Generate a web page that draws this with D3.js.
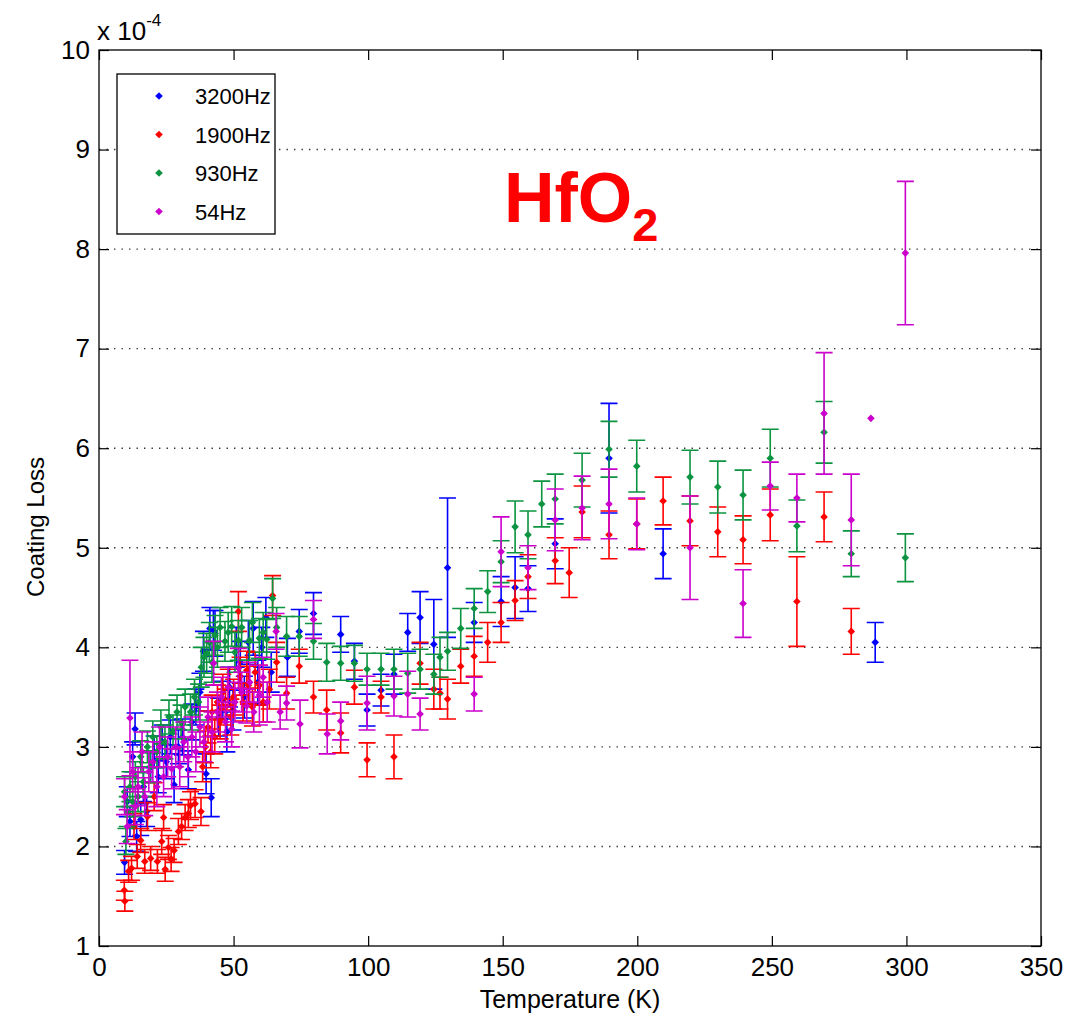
<!DOCTYPE html>
<html><head><meta charset="utf-8">
<script src="https://cdn.jsdelivr.net/npm/d3@7"></script>
<style>body{margin:0;background:#fff}svg text{font-family:"Liberation Sans",Arial,sans-serif}</style>
</head><body><svg id="c" width="1084" height="1017"></svg>
<script>
// series data: [temperature K, coating loss (x1e-4), error half-width]
const s3200 = [[9.5,1.84,.12],[10.5,2.45,.15],[11.5,2.25,.15],[12.5,2.9,.15],[13.4,3.18,.16],[14,2.1,.15],[15.5,2.27,.16],[16.5,2.6,.15],[17.7,2.35,.15],[19.2,2.8,.15],[20.5,2.95,.16],[22,2.7,.16],[23.5,3.05,.17],[25,2.85,.17],[26.5,3.1,.17],[27.9,2.62,.18],[29.5,3.0,.17],[31,3.1,.18],[33.2,2.77,.19],[34.5,3.25,.18],[36,3.4,.18],[37.5,3.55,.19],[38.8,3.96,.2],[39.8,2.73,.2],[41.2,4.19,.21],[41.7,2.49,.19],[42.5,4.17,.2],[43.1,4.14,.23],[44.5,3.3,.19],[46,3.47,.19],[47.5,3.15,.2],[48.5,3.6,.2],[49.8,3.37,.2],[51,4.0,.2],[52.5,3.85,.21],[54,3.5,.21],[55.5,4.05,.22],[57.3,4.19,.27],[59,3.65,.22],[60.5,4.0,.2],[62,4.3,.2],[64,3.75,.2],[70,3.9,.19],[74.4,4.16,.22],[79.7,4.34,.21],[89.8,4.13,.18],[94.9,3.86,.18],[99.6,3.37,.16],[104.8,3.57,.16],[109.6,3.73,.2],[114.7,4.15,.19],[119.3,4.3,.26],[124.4,4.03,.45],[129.5,4.8,.7],[139.4,4.25,.2],[149.4,4.46,.25],[154.6,4.6,.31],[159.4,4.59,.23],[169.5,5.04,.25],[189.5,5.9,.55],[209.6,4.94,.25],[288.4,4.05,.2]];
const s1900 = [[9.4,1.56,.1],[9.6,1.45,.1],[11,1.75,.11],[12.1,1.78,.12],[13,2.2,.13],[14.2,1.9,.12],[15.5,2.06,.12],[17,1.85,.12],[18,2.3,.14],[19.2,1.88,.12],[20.5,2.5,.14],[21.7,1.85,.12],[23.3,2.05,.13],[24,2.29,.13],[24.6,1.77,.12],[25.8,1.99,.12],[26.8,1.87,.12],[27.9,1.96,.12],[29.5,2.15,.13],[30.7,2.2,.13],[32,2.29,.13],[33.2,2.33,.14],[34,2.41,.14],[35.7,2.43,.14],[37.9,2.35,.14],[38.5,2.8,.15],[39.5,3.0,.16],[40.5,3.2,.16],[41.5,2.95,.16],[42,3.35,.17],[43,3.1,.17],[44,3.45,.17],[45,3.25,.17],[46,3.55,.18],[47,3.4,.18],[48,3.6,.18],[49,3.3,.18],[50,3.5,.18],[51.8,4.36,.2],[52.4,3.71,.19],[53.5,3.45,.19],[54.9,3.77,.19],[55.5,3.62,.19],[57,3.4,.19],[58,3.75,.2],[59.6,3.62,.2],[61,3.45,.2],[63.3,3.58,.2],[64.5,4.52,.2],[66,3.85,.2],[69.7,3.54,.16],[74.4,3.81,.17],[79.7,3.5,.16],[84.6,3.37,.2],[89.8,3.14,.2],[94.9,3.6,.17],[99.6,2.87,.17],[104.8,3.5,.16],[109.6,2.9,.22],[119.3,3.84,.21],[124.4,3.58,.2],[126.7,3.54,.16],[129.5,3.48,.2],[134.4,3.81,.17],[139.4,3.91,.2],[144.4,4.05,.2],[149.4,4.25,.2],[154.6,4.47,.2],[159.4,4.71,.22],[169.5,4.87,.23],[174.7,4.75,.25],[179.5,5.36,.26],[189.5,5.13,.24],[199.8,5.24,.25],[209.6,5.47,.24],[219.6,5.27,.25],[229.9,5.16,.25],[239.3,5.08,.24],[249.4,5.33,.26],[259.3,4.46,.45],[269.4,5.31,.25],[279.5,4.16,.23]];
const s930 = [[9.5,2.55,.15],[10,2.05,.13],[10.5,2.35,.15],[11.5,2.6,.15],[12.5,2.45,.15],[13.5,2.7,.15],[14.5,2.5,.15],[15.5,2.9,.16],[16.5,2.65,.15],[18,3.0,.16],[19,2.8,.16],[20,3.1,.16],[21.5,2.95,.16],[23,3.2,.17],[24.5,3.05,.17],[26,3.3,.17],[27.5,3.15,.17],[29,3.35,.17],[30.5,3.25,.17],[32,3.4,.18],[34,3.35,.18],[35.5,3.5,.18],[37,3.45,.18],[38,3.8,.2],[39,3.9,.2],[40,3.94,.2],[41,4.05,.2],[42,3.85,.2],[43.1,4.12,.2],[44,4.0,.2],[45,4.2,.2],[46.8,4.06,.2],[48,4.15,.2],[49.3,4.21,.2],[50.5,3.95,.2],[51.8,4.07,.2],[53,4.2,.2],[55.9,4.07,.2],[57,4.25,.2],[59.6,4.09,.2],[61,4.15,.2],[62.3,4.08,.2],[64.5,4.49,.2],[66,4.2,.2],[69.7,4.11,.2],[74.4,4.11,.2],[79.7,4.06,.18],[84.6,3.85,.19],[89.8,3.84,.17],[94.9,3.84,.18],[99.6,3.78,.16],[104.8,3.78,.16],[109.6,3.78,.2],[114.7,3.74,.2],[119.3,3.78,.2],[124.4,3.73,.2],[126.7,3.9,.2],[129.5,3.96,.19],[134.4,4.19,.2],[139.4,4.39,.2],[144.4,4.56,.21],[149.4,4.86,.21],[154.6,5.21,.26],[159.4,5.13,.24],[164.5,5.44,.23],[169.5,5.49,.25],[179.5,5.68,.27],[189.5,5.99,.28],[199.8,5.82,.26],[219.6,5.71,.27],[229.9,5.61,.26],[239.3,5.53,.25],[249.4,5.9,.29],[259.3,5.22,.26],[269.4,6.16,.31],[279.5,4.94,.23],[299.6,4.9,.24]];
const s54 = [[9.5,2.5,.18],[10.5,2.2,.17],[11.5,3.29,.58],[12.5,2.75,.2],[13.5,2.4,.18],[14.5,2.6,.19],[16,2.95,.2],[17,2.5,.19],[18.5,2.75,.2],[20,2.85,.2],[21.5,2.6,.2],[22.5,3.0,.2],[24,2.7,.2],[25.5,2.9,.2],[27,2.78,.2],[28.5,3.0,.2],[30,2.8,.2],[31.5,3.05,.2],[33,2.9,.2],[34.5,3.1,.2],[36,2.95,.2],[37.5,3.2,.2],[39,3.05,.2],[40.5,3.3,.2],[42,3.15,.2],[42.6,3.84,.22],[44,3.35,.2],[45.5,3.5,.2],[47,3.25,.2],[48,3.6,.2],[49.3,3.18,.18],[50.5,3.45,.2],[51.8,3.79,.2],[53,3.55,.2],[54.9,3.41,.17],[56,3.65,.2],[57.5,3.35,.2],[59.6,3.52,.3],[61,3.7,.2],[62.5,3.45,.2],[65.8,4.16,.18],[67.3,3.35,.17],[69.7,3.44,.17],[74.7,3.23,.24],[79.7,4.28,.19],[84.8,3.13,.2],[89.8,3.26,.19],[99.6,3.44,.27],[109.6,3.51,.2],[114.7,3.53,.23],[119.3,3.33,.16],[139.4,3.53,.17],[149.4,4.96,.35],[159.4,4.8,.22],[169.5,5.28,.31],[179.5,5.4,.32],[189.5,5.44,.35],[199.8,5.24,.26],[219.6,5.0,.52],[239.3,4.44,.34],[249.4,5.62,.24],[259.3,5.5,.24],[269.4,6.35,.61],[279.5,5.28,.46],[286.8,6.3,0],[299.6,7.96,.72]];
const seriesNames = ["3200Hz","1900Hz","930Hz","54Hz"];
const seriesColors = ["#0000ff","#ff0000","#0c9440","#cc00cc"];
const xTicks = [0,50,100,150,200,250,300,350];
const yTicks = [1,2,3,4,5,6,7,8,9,10];
const gridTicks = [2,3,4,5,6,7,8,9];

const svg = d3.select("#c");
const x = d3.scaleLinear().domain([0,350]).range([99,1041]);
const y = d3.scaleLinear().domain([1,10]).range([946,50]);
const allSeries = [s3200,s1900,s930,s54];

// grid
svg.append("g").selectAll("line").data(gridTicks).join("line")
  .attr("x1",x(0)).attr("x2",x(350)).attr("y1",d=>y(d)).attr("y2",d=>y(d))
  .attr("stroke","#333").attr("stroke-width",1.4).attr("stroke-dasharray","1.4,6.1");

// data
const cap = 8.5;
const diamond = "M0,-3.8L3.8,0L0,3.8L-3.8,0Z";
allSeries.forEach((s,i)=>{
  const g = svg.append("g").attr("stroke",seriesColors[i]).attr("fill",seriesColors[i]).attr("stroke-width",1.6);
  const eb = s.filter(d=>d[2]>0);
  g.selectAll("path.eb").data(eb).join("path").attr("class","eb").attr("fill","none")
    .attr("d",d=>{
      const cx=x(d[0]), t=y(d[1]+d[2]), b=y(d[1]-d[2]);
      return `M${cx},${t}V${b}M${cx-cap},${t}H${cx+cap}M${cx-cap},${b}H${cx+cap}`;
    });
  g.selectAll("path.m").data(s).join("path").attr("class","m").attr("stroke","none")
    .attr("d",diamond).attr("transform",d=>`translate(${x(d[0])},${y(d[1])})`);
});

// axes
const fs = 26;
const gx = svg.append("g").attr("transform",`translate(0,${y(1)})`)
  .call(d3.axisBottom(x).tickValues(xTicks).tickSizeInner(-10).tickSizeOuter(0).tickPadding(12));
const gxt = svg.append("g").attr("transform",`translate(0,${y(10)})`)
  .call(d3.axisTop(x).tickValues(xTicks).tickSizeInner(-10).tickSizeOuter(0).tickFormat(""));
const gy = svg.append("g").attr("transform",`translate(${x(0)},0)`)
  .call(d3.axisLeft(y).tickValues(yTicks).tickSizeInner(-10).tickSizeOuter(0).tickPadding(9));
const gyr = svg.append("g").attr("transform",`translate(${x(350)},0)`)
  .call(d3.axisRight(y).tickValues(yTicks).tickSizeInner(-10).tickSizeOuter(0).tickFormat(""));
[gx,gxt,gy,gyr].forEach(g=>{
  g.selectAll(".domain").remove();
  g.selectAll("line").attr("stroke","#000").attr("stroke-width",1.2);
  g.selectAll("text").attr("fill","#000").style("font-size",fs+"px").style("font-family","'Liberation Sans',Arial,sans-serif");
});
svg.append("rect").attr("x",x(0)).attr("y",y(10)).attr("width",x(350)-x(0)).attr("height",y(1)-y(10))
  .attr("fill","none").attr("stroke","#000").attr("stroke-width",1.3);

// exponent
const ex = svg.append("text").attr("x",97).attr("y",40).style("font-size","26px");
ex.append("tspan").text("x 10");
ex.append("tspan").attr("dy",-14).style("font-size","17px").text("-4");

// axis titles
svg.append("text").attr("x",x(175)).attr("y",1008).attr("text-anchor","middle").style("font-size","25px").text("Temperature (K)");
svg.append("text").attr("transform",`translate(44,527) rotate(-90)`).attr("text-anchor","middle").style("font-size","24px").text("Coating Loss");

// legend
const lg = svg.append("g");
lg.append("rect").attr("x",117).attr("y",74).attr("width",158).attr("height",160).attr("fill","#fff").attr("stroke","#000").attr("stroke-width",1.3);
seriesNames.forEach((n,i)=>{
  const yy = 96 + i*38.5;
  lg.append("path").attr("d",diamond).attr("fill",seriesColors[i]).attr("transform",`translate(159,${yy})`);
  lg.append("text").attr("x",195).attr("y",yy+8).style("font-size","22px").text(n);
});

// title
const tt = svg.append("text").attr("x",504).attr("y",222).attr("fill","#ff0000").style("font-weight","bold").style("font-size","70px");
tt.append("tspan").text("HfO");
tt.append("tspan").attr("dy",19).style("font-size","47px").text("2");
</script></body></html>
